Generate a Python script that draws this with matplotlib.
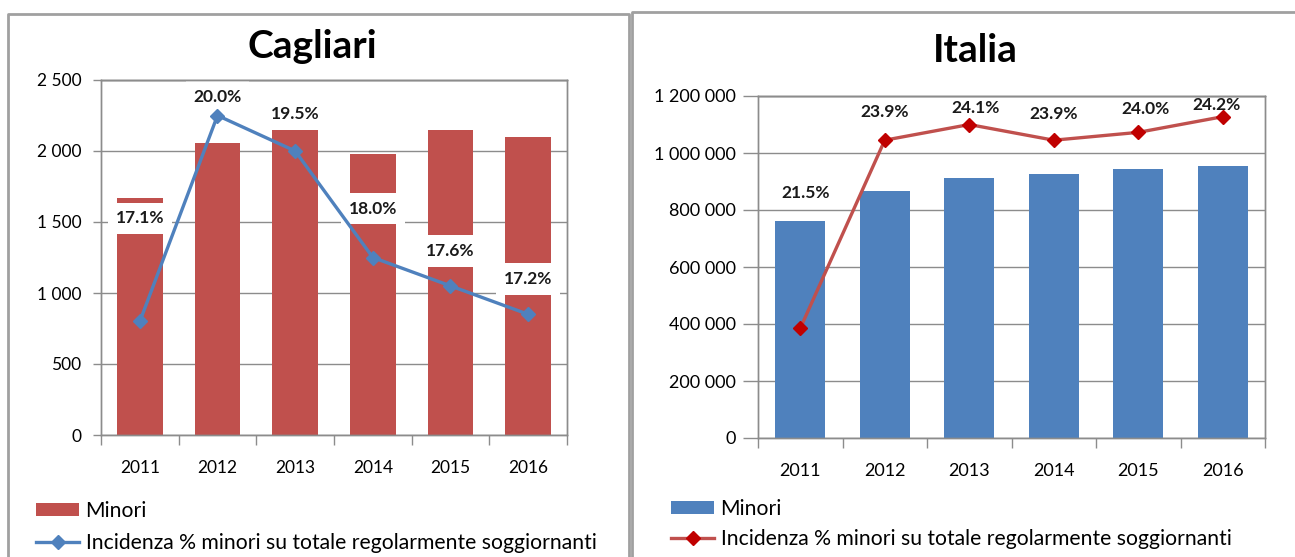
import matplotlib
matplotlib.use('Agg')
import matplotlib.pyplot as plt
from matplotlib.lines import Line2D
from matplotlib.patches import Patch
from matplotlib.ticker import FuncFormatter, FixedLocator, MultipleLocator

# ---------------- data ----------------
years = ['2011', '2012', '2013', '2014', '2015', '2016']
cagliari_minori = [1667, 2056, 2146, 1979, 2146, 2096]
cagliari_incidenza = [17.1, 20.0, 19.5, 18.0, 17.6, 17.2]
italia_minori = [761000, 867000, 911000, 925000, 943000, 956000]
italia_incidenza = [21.5, 23.9, 24.1, 23.9, 24.0, 24.2]
titles = ['Cagliari', 'Italia']
legend_labels = ['Minori', 'Incidenza % minori su totale regolarmente soggiornanti']

# ---------------- style ----------------
RED = '#C0504D'
BLUE = '#4F81BD'
DARKRED = '#C00000'
GRID = '#8C8C8C'
FONT = ['Lato', 'DejaVu Sans']
plt.rcParams['font.family'] = FONT

W, H = 1295, 557
fig = plt.figure(figsize=(W / 100, H / 100), dpi=100)


def px_rect(x0, y0, x1, y1):
    return [x0 / W, 1 - y1 / H, (x1 - x0) / W, (y1 - y0) / H]


def fmt_thousands(v, pos=None):
    return f"{int(round(v)):,}".replace(',', ' ')


def make_panel(rect, bars, pct, bar_color, line_color, marker_color, ylim, ystep,
               pct_lim, title, title_xy, label_offsets, label_box, ytick_len, ypad,
               ysize, legend_xy, legend_spacing):
    ax = fig.add_axes(px_rect(*rect))
    x = list(range(len(years)))
    ax.bar(x, bars, width=0.59, color=bar_color, zorder=2)
    ax.set_xlim(-0.5, len(years) - 0.5)
    ax.set_ylim(*ylim)
    ax.yaxis.set_major_locator(MultipleLocator(ystep))
    ax.yaxis.set_major_formatter(FuncFormatter(fmt_thousands))
    ax.grid(axis='y', color=GRID, lw=1.0, zorder=0)
    ax.set_axisbelow(True)
    for s in ax.spines.values():
        s.set_color(GRID)
        s.set_linewidth(1.0)
    # x ticks at category boundaries, labels at centres
    ax.xaxis.set_major_locator(FixedLocator([i - 0.5 for i in range(len(years) + 1)]))
    ax.xaxis.set_major_formatter(FuncFormatter(lambda v, p: ''))
    ax.xaxis.set_minor_locator(FixedLocator(x))
    ax.set_xticklabels(years, minor=True)
    ax.tick_params(axis='x', which='major', direction='out', length=7, color=GRID, width=1)
    ax.tick_params(axis='x', which='minor', length=0, pad=18, labelsize=ysize)
    ax.tick_params(axis='y', direction='out', length=ytick_len, color=GRID, width=1,
                   pad=ypad, labelsize=ysize)

    ax2 = ax.twinx()
    ax2.set_ylim(*pct_lim)
    ax2.set_yticks([])
    for s in ax2.spines.values():
        s.set_color(GRID)
        s.set_linewidth(1.0)
        s.set_zorder(10)
    # keep the plot-area top border visible above label boxes
    ax2.axhline(pct_lim[1], color=GRID, lw=1.0, zorder=20, clip_on=False)
    ax2.plot(x, pct, color=line_color, lw=2.4, marker='D', markersize=7,
             markerfacecolor=marker_color, markeredgecolor=marker_color, zorder=6)
    for i, v in enumerate(pct):
        dx, dy = label_offsets[i]
        kw = {}
        if label_box:
            kw['bbox'] = dict(boxstyle='square,pad=0.45', fc='white', ec='none')
        ax2.annotate(f"{v:.1f}%", (i, v), xytext=(dx, dy), textcoords='offset pixels',
                     ha='center', va='center', fontsize=12.5, fontweight='bold',
                     color='#1a1a1a', zorder=5, **kw)

    fig.text(title_xy[0] / W, 1 - title_xy[1] / H, title, ha='center', va='center',
             fontsize=28, fontweight='bold')

    handles = [Patch(facecolor=bar_color, edgecolor='none'),
               Line2D([0], [0], color=line_color, lw=2.4, marker='D', markersize=7,
                      markerfacecolor=marker_color, markeredgecolor=marker_color)]
    fig.legend(handles, legend_labels, loc='upper left',
               bbox_to_anchor=(legend_xy[0] / W, 1 - legend_xy[1] / H),
               frameon=False, fontsize=15.2, handlelength=2.05, handleheight=0.58,
               handletextpad=0.3, labelspacing=legend_spacing, borderpad=0,
               borderaxespad=0)
    return ax


# Cagliari panel
make_panel(rect=(101, 80, 567, 435), bars=cagliari_minori, pct=cagliari_incidenza,
           bar_color=RED, line_color=BLUE, marker_color=BLUE,
           ylim=(0, 2500), ystep=500, pct_lim=(15.5, 20.5),
           title=titles[0], title_xy=(312, 47),
           label_offsets=[(0, 103), (0, 19), (0, 37), (0, 49), (0, 35), (0, 35)],
           label_box=True, ytick_len=6, ypad=8, ysize=12.5,
           legend_xy=(36, 501), legend_spacing=0.56)

# Italia panel
make_panel(rect=(758, 96, 1265, 438), bars=italia_minori, pct=italia_incidenza,
           bar_color=BLUE, line_color=RED, marker_color=DARKRED,
           ylim=(0, 1200000), ystep=200000, pct_lim=(20.1, 24.464),
           title=titles[1], title_xy=(975, 51),
           label_offsets=[(5, 135), (0, 28), (6, 17), (0, 26), (7, 23), (-6, 12)],
           label_box=False, ytick_len=11, ypad=5, ysize=13,
           legend_xy=(671, 499), legend_spacing=0.48)

# panel frames
BORDER = '#A0A0A0'
fig.add_artist(Line2D([8 / W, 8 / W, 629 / W, 629 / W],
                      [0, 1 - 14 / H, 1 - 14 / H, 0], color=BORDER, lw=2,
                      transform=fig.transFigure))
fig.add_artist(Line2D([632 / W, 632 / W, 1], [0, 1 - 12 / H, 1 - 12 / H], color=BORDER,
                      lw=2, transform=fig.transFigure))

fig.savefig('out.png', dpi=100)
